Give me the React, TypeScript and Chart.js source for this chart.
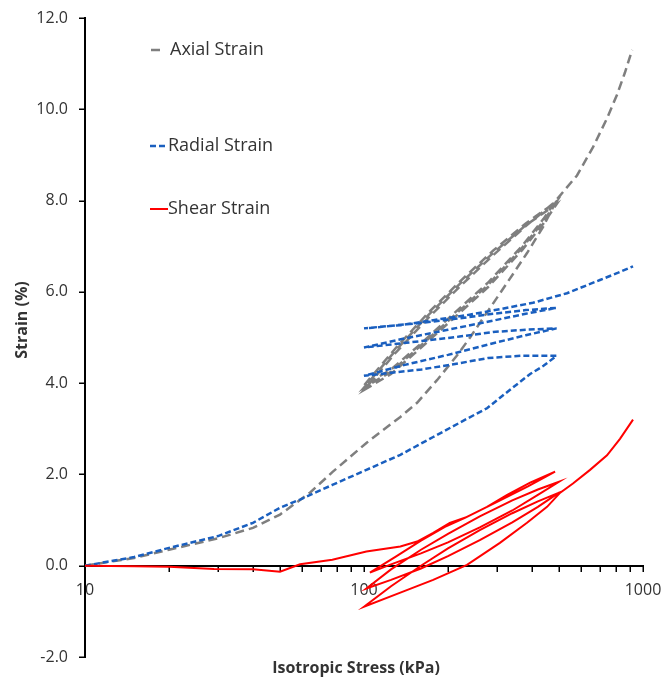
import React, { useEffect, useRef } from 'react';
import { Chart, registerables } from 'chart.js';

Chart.register(...registerables);

// ---- Data (stress in kPa, strain in %) ----
// Axial strain: loading, then three unload/reload cycles between ~100 and ~500 kPa, then final loading
const axialX = [
  10, 15, 20, 30, 40, 50, 64, 77, 102, 135, 155, 183, 215, 240, 276, 326, 384, 438, 490,
  380, 290, 220, 170, 130, 100,
  125, 161, 212, 278, 368, 440, 490,
  380, 290, 220, 170, 130, 100,
  125, 161, 212, 278, 368, 440, 490,
  380, 290, 220, 170, 130, 100,
  125, 161, 212, 278, 368, 440, 490, 580, 662, 743, 807, 861, 914,
];
const axialY = [
  0, 0.17, 0.35, 0.6, 0.83, 1.12, 1.6, 2.05, 2.69, 3.26, 3.57, 4.07, 4.6, 5.0, 5.55, 6.2, 6.85, 7.42, 8.0,
  7.44, 6.8, 6.11, 5.43, 4.67, 3.85,
  4.2, 4.79, 5.45, 6.1, 6.91, 7.5, 7.92,
  7.46, 6.85, 6.17, 5.49, 4.72, 3.9,
  4.25, 4.84, 5.5, 6.15, 6.96, 7.55, 7.98,
  7.5, 6.9, 6.22, 5.54, 4.77, 3.95,
  4.3, 4.88, 5.55, 6.2, 7.0, 7.6, 8.02, 8.55, 9.17, 9.8, 10.32, 10.8, 11.3,
];

// Radial strain
const radialX = [
  10, 15, 20, 30, 40, 50, 59, 77, 102, 135, 177, 234, 276, 333, 394, 440, 490,
  368, 278, 212, 161, 100,
  140, 200, 280, 380, 490,
  380, 290, 220, 160, 100,
  140, 200, 280, 380, 490,
  380, 290, 220, 160, 100,
  135, 177, 234, 307, 403, 534, 701, 815, 921,
];
const radialY = [
  0, 0.19, 0.39, 0.65, 0.94, 1.27, 1.45, 1.77, 2.1, 2.43, 2.82, 3.22, 3.45, 3.85, 4.2, 4.38, 4.6,
  4.6, 4.55, 4.42, 4.3, 4.16,
  4.4, 4.62, 4.85, 5.05, 5.2,
  5.17, 5.12, 5.02, 4.92, 4.78,
  4.98, 5.17, 5.35, 5.52, 5.65,
  5.6, 5.52, 5.42, 5.32, 5.2,
  5.27, 5.38, 5.49, 5.62, 5.76, 5.97, 6.26, 6.42, 6.56,
];

// Shear strain
const shearX = [
  10, 15, 20, 29, 40, 50, 59, 77, 102, 135, 155, 177, 203, 234, 276, 326, 394, 484,
  387, 300, 230, 195, 160, 130, 105,
  125, 160, 200, 260, 340, 420, 500,
  420, 340, 260, 200, 160, 125, 102,
  125, 160, 200, 260, 340, 420, 500,
  420, 340, 260, 200, 160, 125, 100,
  135, 177, 234, 307, 384, 453, 505, 561, 646, 743, 827, 921,
];
const shearY = [
  0, -0.01, -0.02, -0.07, -0.08, -0.13, 0.03, 0.13, 0.31, 0.42, 0.53, 0.72, 0.94, 1.07, 1.29, 1.55, 1.82, 2.06,
  1.74, 1.4, 1.05, 0.85, 0.55, 0.2, -0.15,
  0.03, 0.27, 0.51, 0.84, 1.21, 1.55, 1.84,
  1.67, 1.43, 1.08, 0.7, 0.35, -0.08, -0.5,
  -0.31, -0.06, 0.21, 0.56, 0.95, 1.29, 1.6,
  1.41, 1.15, 0.78, 0.38, 0.0, -0.45, -0.9,
  -0.59, -0.31, 0.02, 0.5, 0.94, 1.29, 1.6, 1.8, 2.1, 2.42, 2.78, 3.2,
];

const seriesLabels = ['Axial Strain', 'Radial Strain', 'Shear Strain'];
const xTitle = 'Isotropic Stress (kPa)';
const yTitle = 'Strain (%)';
const yMin = -2;
const yMax = 12;
const yStep = 2;
const xMin = 10;
const xMax = 1000;
// tick mark positions on the log axis (majors and minors)
const xTickValues = [
  10, 20, 30, 40, 50, 60, 70, 80, 90,
  100, 200, 300, 400, 500, 600, 700, 800, 900, 1000,
];
const yTickValues = [-2, 0, 2, 4, 6, 8, 10, 12];

const FONT = '"Open Sans", "Noto Sans", sans-serif';
const TEXT = '#333333';
const TICK_LEN = 5;

function toPoints(xs: number[], ys: number[]) {
  return xs.map((x, i) => ({ x, y: ys[i] }));
}

const legendRows = [50, 146, 209];
const legendSampleDash: number[][] = [[9, 30], [6, 3], []];

const tickPlugin = {
  id: 'tickMarks',
  beforeDatasetsDraw(chart: any) {
    const ctx = chart.ctx as CanvasRenderingContext2D;
    const xs = chart.scales.x;
    const ys = chart.scales.y;
    const y0 = Math.round(ys.getPixelForValue(0));
    const left = chart.chartArea.left;
    ctx.save();
    ctx.strokeStyle = '#000';
    ctx.lineWidth = 1.5;
    ctx.beginPath();
    xTickValues.forEach((v) => {
      const px = Math.round(xs.getPixelForValue(v)) + 0.25;
      ctx.moveTo(px, y0 + 1);
      ctx.lineTo(px, y0 + 1 + TICK_LEN);
    });
    yTickValues.forEach((v) => {
      const py = Math.round(ys.getPixelForValue(v)) + 0.25;
      ctx.moveTo(left - 1 - TICK_LEN, py);
      ctx.lineTo(left - 1, py);
    });
    ctx.stroke();
    ctx.restore();
  },
};

const overlayPlugin = {
  id: 'overlay',
  afterDraw(chart: any) {
    const ctx = chart.ctx as CanvasRenderingContext2D;
    ctx.save();
    chart.data.datasets.forEach((ds: any, i: number) => {
      const y = legendRows[i];
      ctx.strokeStyle = ds.borderColor;
      ctx.lineWidth = ds.borderWidth;
      ctx.setLineDash(legendSampleDash[i]);
      ctx.beginPath();
      ctx.moveTo(i === 0 ? 151 : 150, y);
      ctx.lineTo(168, y);
      ctx.stroke();
      ctx.setLineDash([]);
      ctx.fillStyle = TEXT;
      ctx.font = `18px ${FONT}`;
      ctx.textAlign = 'left';
      ctx.textBaseline = 'middle';
      ctx.fillText(ds.label, i === 0 ? 170 : 168, y);
    });
    // axis titles
    ctx.font = `bold 16px ${FONT}`;
    ctx.fillStyle = TEXT;
    ctx.textAlign = 'center';
    ctx.textBaseline = 'middle';
    ctx.fillText(xTitle, 356, 668);
    ctx.save();
    ctx.translate(22, 320);
    ctx.rotate(-Math.PI / 2);
    ctx.fillText(yTitle, 0, 0);
    ctx.restore();
    ctx.restore();
  },
};

export default function App() {
  const ref = useRef<HTMLCanvasElement | null>(null);

  useEffect(() => {
    if (!ref.current) return;
    const chart = new Chart(ref.current, {
      type: 'scatter',
      data: {
        datasets: [
          {
            label: seriesLabels[0],
            data: toPoints(axialX, axialY),
            showLine: true,
            borderColor: '#7f7f7f',
            backgroundColor: '#7f7f7f',
            borderWidth: 2.5,
            borderDash: [9, 5],
            pointRadius: 0,
            tension: 0,
            order: 2,
          },
          {
            label: seriesLabels[1],
            data: toPoints(radialX, radialY),
            showLine: true,
            borderColor: '#1a5fbf',
            backgroundColor: '#1a5fbf',
            borderWidth: 2.5,
            borderDash: [6, 3],
            pointRadius: 0,
            tension: 0,
            order: 1,
          },
          {
            label: seriesLabels[2],
            data: toPoints(shearX, shearY),
            showLine: true,
            borderColor: '#ff0000',
            backgroundColor: '#ff0000',
            borderWidth: 2,
            pointRadius: 0,
            tension: 0,
            order: 0,
          },
        ],
      },
      options: {
        responsive: false,
        animation: false,
        layout: { padding: { top: 18, right: 20, bottom: 23, left: 0 } },
        plugins: {
          legend: { display: false },
          tooltip: { enabled: false },
          title: { display: false },
        },
        scales: {
          x: {
            type: 'logarithmic',
            position: { y: 0 } as any,
            min: xMin,
            max: xMax,
            grid: { display: false, drawOnChartArea: false, drawTicks: false },
            border: { display: true, color: '#000', width: 2 },
            ticks: {
              autoSkip: false,
              maxRotation: 0,
              padding: 15,
              color: TEXT,
              font: { size: 16, family: FONT },
              callback: (v: any) => {
                const l = Math.log10(Number(v));
                return Math.abs(l - Math.round(l)) < 1e-9 ? String(Number(v)) : '';
              },
            },
            afterFit: (scale: any) => {
              scale.paddingLeft = 0;
              scale.paddingRight = 0;
              scale.paddingTop = 0;
              scale.paddingBottom = 0;
            },
          },
          y: {
            type: 'linear',
            min: yMin,
            max: yMax,
            grid: { display: false, drawOnChartArea: false, drawTicks: false },
            border: { display: true, color: '#000', width: 2 },
            ticks: {
              stepSize: yStep,
              padding: 17,
              color: TEXT,
              font: { size: 16, family: FONT },
              callback: (v: any) => Number(v).toFixed(1),
            },
            afterFit: (scale: any) => {
              scale.width = 85;
              scale.paddingTop = 0;
              scale.paddingBottom = 0;
              scale.paddingLeft = 0;
              scale.paddingRight = 0;
            },
          },
        },
      },
      plugins: [tickPlugin, overlayPlugin],
    });
    return () => chart.destroy();
  }, []);

  return (
    <div style={{ position: 'absolute', left: 0, top: 0, width: 663, height: 680 }}>
      <canvas ref={ref} width={663} height={680} style={{ display: 'block' }} />
    </div>
  );
}
